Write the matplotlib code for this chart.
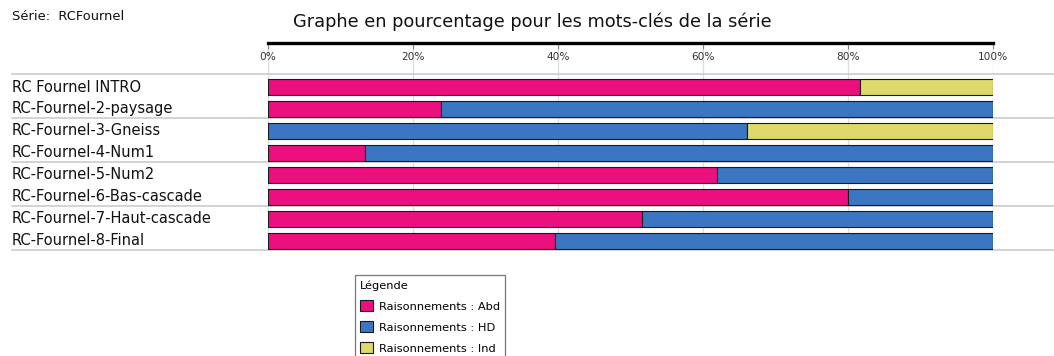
import matplotlib
matplotlib.use("Agg")
import matplotlib.pyplot as plt
from matplotlib.lines import Line2D
from matplotlib.transforms import blended_transform_factory
import numpy as np

plt.rcParams['font.family'] = ['DejaVu Sans']

categories = [
    "RC Fournel INTRO",
    "RC-Fournel-2-paysage",
    "RC-Fournel-3-Gneiss",
    "RC-Fournel-4-Num1",
    "RC-Fournel-5-Num2",
    "RC-Fournel-6-Bas-cascade",
    "RC-Fournel-7-Haut-cascade",
    "RC-Fournel-8-Final",
]
series_names = ["Raisonnements : Abd", "Raisonnements : HD", "Raisonnements : Ind"]
abd = [81.6, 23.8, 0.0, 13.4, 61.9, 80.0, 51.6, 39.6]
hd = [0.0, 76.2, 66.1, 86.6, 38.1, 20.0, 48.4, 60.4]
ind = [18.4, 0.0, 33.9, 0.0, 0.0, 0.0, 0.0, 0.0]
tick_values = [0, 20, 40, 60, 80, 100]
tick_labels = ["0%", "20%", "40%", "60%", "80%", "100%"]

colors = ["#EC107E", "#3B76C2", "#DDD96B"]

W, H = 1054, 356
fig = plt.figure(figsize=(W / 100, H / 100), dpi=100)
fig.patch.set_facecolor("white")

# plot area: 0% .. 100% horizontally, top axis line down to last separator
left, right = 268 / W, 993 / W
top, bottom = 1 - 43 / H, 1 - 250 / H
ax = fig.add_axes([left, bottom, right - left, top - bottom])

y = np.arange(len(categories))
series = [abd, hd, ind]
starts = np.zeros(len(categories))
handles = []
for vals, col, name in zip(series, colors, series_names):
    vals = np.asarray(vals)
    bc = ax.barh(y, vals, left=starts, height=0.73, color=col,
                 edgecolor="#1a1a1a", linewidth=0.8, label=name, zorder=3)
    handles.append(bc)
    starts = starts + vals

ax.set_xlim(0, 100)
ax.set_ylim(7.43, -2.006)
ax.set_yticks([])

ax.xaxis.tick_top()
ax.set_xticks(tick_values)
ax.set_xticklabels(tick_labels, fontsize=7.6, color="#333333")
ax.tick_params(axis="x", direction="in", length=4, width=0.8, color="#888888",
               pad=-13.5)
ax.grid(axis="x", color="#dcdcdc", linewidth=0.9, zorder=0)
for s in ["left", "right", "bottom"]:
    ax.spines[s].set_visible(False)
ax.spines["top"].set_linewidth(2.4)
ax.spines["top"].set_color("black")

# row labels on the left
trans_lbl = blended_transform_factory(fig.transFigure, ax.transData)
for i, name in enumerate(categories):
    ax.text(12 / W, i, name, transform=trans_lbl, fontsize=10.5,
            va="center", ha="left", color="#111111", clip_on=False)

# grey separators every two rows, full width
for yb in [-0.59, 1.41, 3.41, 5.41, 7.41]:
    ax.add_line(Line2D([12 / W, 1.0], [yb, yb], transform=trans_lbl,
                       color="#c8c8c8", linewidth=1.1, clip_on=False))

fig.text(12 / W, 1 - 16 / H, "Série:  RCFournel", fontsize=9.4,
         va="center", ha="left", color="#111111")
fig.text(532 / W, 1 - 22 / H,
         "Graphe en pourcentage pour les mots-clés de la série",
         fontsize=12.8, va="center", ha="center", color="#111111")

leg = fig.legend(handles=handles, labels=series_names, title="Légende",
                 loc="upper left", bbox_to_anchor=(355 / W, 1 - 275 / H),
                 fontsize=8.2, title_fontsize=8.2, alignment="left",
                 frameon=True, fancybox=False, edgecolor="#555555",
                 handlelength=1.15, handleheight=1.1, handletextpad=0.5,
                 labelspacing=0.85, borderpad=0.45, borderaxespad=0)
leg.get_frame().set_linewidth(0.9)

fig.savefig("out.png", dpi=100, facecolor="white")
